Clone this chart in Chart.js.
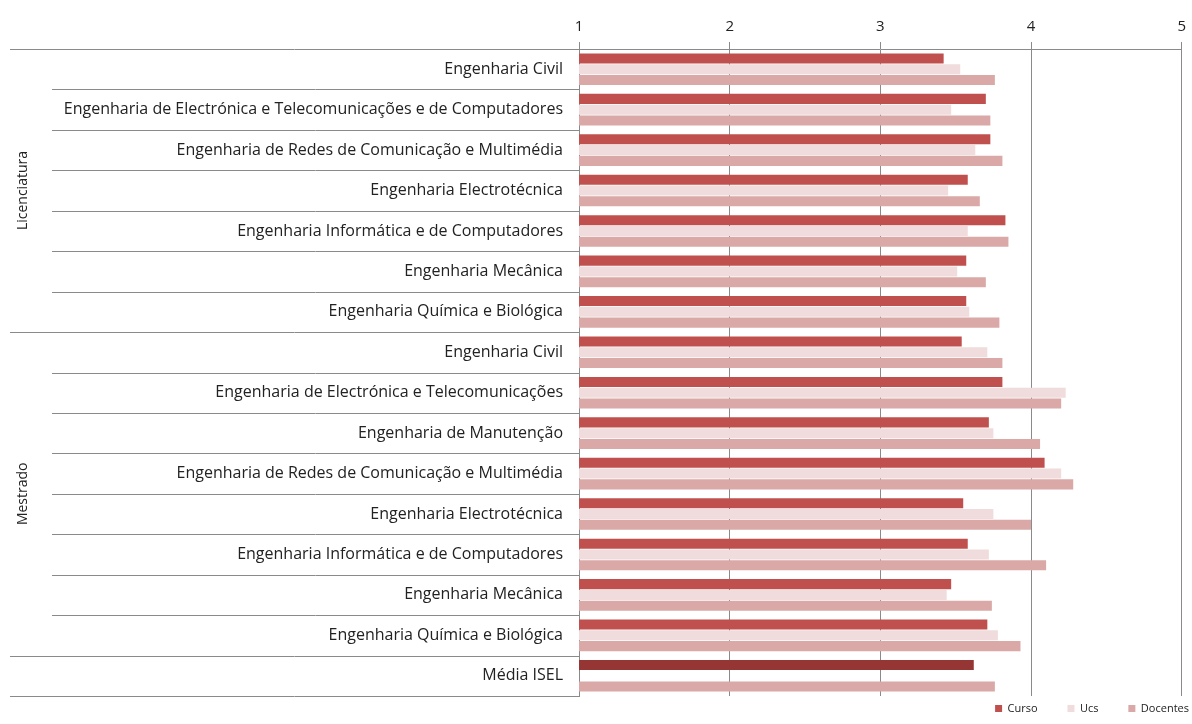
<!DOCTYPE html>
<html>
<head>
<meta charset="utf-8">
<script src="https://cdn.jsdelivr.net/npm/chart.js@4.4.0/dist/chart.umd.min.js"></script>
<style>
    html, body { margin: 0; padding: 0; background: #ffffff; }
    #wrap { width: 1192px; height: 724px; }
</style>
</head>
<body>
<div id="wrap"><canvas id="chart" width="1192" height="724"></canvas></div>
<script>
// Categories (one row per course)
const labels = [
    'Engenharia Civil',
    'Engenharia de Electrónica e Telecomunicações e de Computadores',
    'Engenharia de Redes de Comunicação e Multimédia',
    'Engenharia Electrotécnica',
    'Engenharia Informática e de Computadores',
    'Engenharia Mecânica',
    'Engenharia Química e Biológica',
    'Engenharia Civil',
    'Engenharia de Electrónica e Telecomunicações',
    'Engenharia de Manutenção',
    'Engenharia de Redes de Comunicação e Multimédia',
    'Engenharia Electrotécnica',
    'Engenharia Informática e de Computadores',
    'Engenharia Mecânica',
    'Engenharia Química e Biológica',
    'Média ISEL'
];

// Groups shown as rotated labels on the left
const groupNames = ['Licenciatura', 'Mestrado'];
const groupStart = [0, 7];
const groupEnd = [6, 14];

// Series values
const curso    = [3.42, 3.70, 3.73, 3.58, 3.83, 3.57, 3.57, 3.54, 3.81, 3.72, 4.09, 3.55, 3.58, 3.47, 3.71, 3.62];
const ucs      = [3.53, 3.47, 3.63, 3.45, 3.58, 3.51, 3.59, 3.71, 4.23, 3.75, 4.20, 3.75, 3.72, 3.44, 3.78, null];
const docentes = [3.76, 3.73, 3.81, 3.66, 3.85, 3.70, 3.79, 3.81, 4.20, 4.06, 4.28, 4.00, 4.10, 3.74, 3.93, 3.76];

const xTicks = [1, 2, 3, 4, 5];

const FONT = '"Open Sans", Lato, sans-serif';
const LINE = '#8a8a8a';

// Separator lines and vertical group labels in the category area
const groupPlugin = {
    id: 'groupPlugin',
    afterDraw(chart) {
        const ctx = chart.ctx;
        const y = chart.scales.y;
        const area = chart.chartArea;
        const half = (y.getPixelForValue(1) - y.getPixelForValue(0)) / 2;

        ctx.save();
        ctx.strokeStyle = LINE;
        ctx.lineWidth = 1;
        for (let i = 0; i <= labels.length; i++) {
            const py = Math.round(y.getPixelForValue(i) - half) + 0.5;
            const major = i === 0 || i === 7 || i === 15 || i === labels.length;
            ctx.beginPath();
            ctx.moveTo(major ? 10 : 52, py);
            ctx.lineTo(area.left, py);
            ctx.stroke();
        }

        ctx.fillStyle = '#222';
        ctx.font = '14px ' + FONT;
        ctx.textAlign = 'center';
        ctx.textBaseline = 'middle';
        groupNames.forEach((name, g) => {
            const top = y.getPixelForValue(groupStart[g]) - half;
            const bottom = y.getPixelForValue(groupEnd[g]) + half;
            ctx.save();
            ctx.translate(23, (top + bottom) / 2);
            ctx.rotate(-Math.PI / 2);
            ctx.fillText(name, 0, 0);
            ctx.restore();
        });
        ctx.restore();
    }
};

new Chart(document.getElementById('chart'), {
    type: 'bar',
    data: {
        labels: labels,
        datasets: [
            {
                label: 'Curso',
                data: curso,
                backgroundColor: c => c.dataIndex === 15 ? '#963634' : '#C0504D'
            },
            {
                label: 'Ucs',
                data: ucs,
                backgroundColor: '#F0DCDC'
            },
            {
                label: 'Docentes',
                data: docentes,
                backgroundColor: '#D9A8A7'
            }
        ]
    },
    options: {
        indexAxis: 'y',
        responsive: false,
        animation: false,
        datasets: {
            bar: {
                categoryPercentage: 0.8,
                barPercentage: 0.93
            }
        },
        layout: {
            padding: { top: 12, right: -4, bottom: 0, left: 0 }
        },
        plugins: {
            tooltip: { enabled: false },
            legend: {
                position: 'bottom',
                align: 'end',
                labels: {
                    boxWidth: 7,
                    boxHeight: 7,
                    padding: 7,
                    color: '#222',
                    font: { family: FONT, size: 11 },
                    generateLabels: chart => {
                        const items = Chart.defaults.plugins.legend.labels.generateLabels(chart);
                        items.forEach((it, i) => {
                            if (i < items.length - 1) it.text = it.text + '        ';
                        });
                        return items;
                    }
                }
            }
        },
        scales: {
            x: {
                position: 'top',
                min: 1,
                max: 5,
                afterBuildTicks: s => { s.ticks = xTicks.map(v => ({ value: v })); },
                ticks: {
                    color: '#222',
                    font: { family: FONT, size: 15 },
                    padding: 6
                },
                grid: {
                    color: LINE,
                    tickLength: 7,
                    drawTicks: true
                },
                border: { color: LINE }
            },
            y: {
                afterFit: s => { s.width = 579; },
                ticks: {
                    color: '#222',
                    font: { family: FONT, size: 16 },
                    padding: 8,
                    autoSkip: false
                },
                grid: { display: false },
                border: { color: LINE }
            }
        }
    },
    plugins: [groupPlugin]
});
</script>
</body>
</html>
